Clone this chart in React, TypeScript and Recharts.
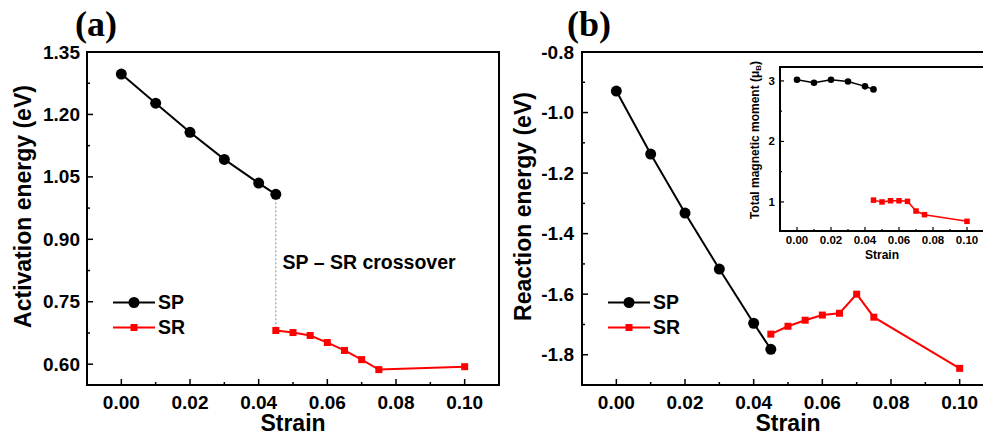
import React from 'react';
import {
  LineChart,
  Line,
  XAxis,
  YAxis,
  ReferenceLine,
  ReferenceArea,
  ReferenceDot,
  Legend,
  Label,
} from 'recharts';

// ---------- data ----------
const strainSP = [0, 0.01, 0.02, 0.03, 0.04, 0.045];
const strainSR = [0.045, 0.05, 0.055, 0.06, 0.065, 0.07, 0.075, 0.1];
const activationSP = [1.297, 1.227, 1.157, 1.092, 1.035, 1.008];
const activationSR = [0.681, 0.676, 0.669, 0.652, 0.633, 0.611, 0.587, 0.594];
const reactionSP = [-0.929, -1.137, -1.332, -1.517, -1.696, -1.782];
const reactionSR = [-1.732, -1.706, -1.686, -1.669, -1.663, -1.6, -1.676, -1.845];
const momentSP = [3.02, 2.97, 3.02, 2.99, 2.91, 2.86];
const momentSR = [1.03, 1.0, 1.02, 1.02, 1.01, 0.85, 0.79, 0.68];

// ---------- ticks ----------
const strainTicks = [0, 0.02, 0.04, 0.06, 0.08, 0.1];
const strainMinorTicks = [0.01, 0.03, 0.05, 0.07, 0.09];
const activationTicks = [0.6, 0.75, 0.9, 1.05, 1.2, 1.35];
const activationMinorTicks = [0.675, 0.825, 0.975, 1.125, 1.275];
const reactionTicks = [-1.8, -1.6, -1.4, -1.2, -1.0, -0.8];
const reactionMinorTicks = [-1.7, -1.5, -1.3, -1.1, -0.9];
const momentTicks = [1, 2, 3];
const momentMinorTicks = [1.5, 2.5];

const seriesNames = ['SP', 'SR'];
const seriesColors = ['#000000', '#ff0000'];
const crossoverText = 'SP – SR crossover';
const crossoverAnchor = { strain: 0.0455, energy: 0.845 };

const strainDomain = [-0.01, 0.11];
const activationDomain = [0.55, 1.35];
const reactionDomain = [-1.9, -0.8];
const momentDomain = [0.52, 3.23];

const FONT = '"Liberation Sans", Arial, sans-serif';

const toPts = (xs: number[], ys: number[]) => xs.map((x, i) => ({ x, y: ys[i] }));
const merge = (a: number[], b: number[]) => [...a, ...b].sort((p, q) => p - q);
const isIn = (arr: number[], v: number) => arr.some((m) => Math.abs(m - v) < 1e-9);

function makeXTick(majors: number[], decimals: number, fontSize: number, gap: number, majorLen: number, minorLen: number, sw: number) {
  return (props: any) => {
    const { x, y, payload } = props;
    const major = isIn(majors, payload.value);
    return (
      <g>
        <line x1={x} x2={x} y1={y} y2={y - (major ? majorLen : minorLen)} stroke="#000" strokeWidth={sw} />
        {major && (
          <text x={x} y={y + gap} textAnchor="middle" dominantBaseline="central" fontSize={fontSize} fontWeight="bold" fill="#000" fontFamily={FONT}>
            {Number(payload.value).toFixed(decimals)}
          </text>
        )}
      </g>
    );
  };
}

function makeYTick(majors: number[], decimals: number, fontSize: number, gap: number, majorLen: number, minorLen: number, sw: number) {
  return (props: any) => {
    const { x, y, payload } = props;
    const major = isIn(majors, payload.value);
    return (
      <g>
        <line x1={x} x2={x + (major ? majorLen : minorLen)} y1={y} y2={y} stroke="#000" strokeWidth={sw} />
        {major && (
          <text x={x - gap} y={y} textAnchor="end" dominantBaseline="central" fontSize={fontSize} fontWeight="bold" fill="#000" fontFamily={FONT}>
            {Number(payload.value).toFixed(decimals)}
          </text>
        )}
      </g>
    );
  };
}

function xTitle(text: string, fontSize: number, dyCenter: number) {
  return (props: any) => {
    const vb = props.viewBox || { x: 0, y: 0, width: 0, height: 0 };
    return (
      <text x={vb.x + vb.width / 2} y={vb.y + dyCenter} textAnchor="middle" dominantBaseline="central" fontSize={fontSize} fontWeight="bold" fill="#000" fontFamily={FONT}>
        {text}
      </text>
    );
  };
}

function yTitle(content: React.ReactNode, fontSize: number, dx: number, shift: number) {
  return (props: any) => {
    const vb = props.viewBox || { x: 0, y: 0, width: 0, height: 0 };
    const cx = vb.x + dx;
    const cy = vb.y + vb.height / 2 + shift;
    return (
      <text x={cx} y={cy} transform={`rotate(-90, ${cx}, ${cy})`} textAnchor="middle" dominantBaseline="central" fontSize={fontSize} fontWeight="bold" fill="#000" fontFamily={FONT}>
        {content}
      </text>
    );
  };
}

function squareDot(size: number, color: string) {
  return (props: any) => {
    const { cx, cy, index } = props;
    return <rect key={`sq-${index}`} x={cx - size / 2} y={cy - size / 2} width={size} height={size} fill={color} />;
  };
}

function legendContent(fontSize: number, rowH: number, lineW: number, r: number, sq: number) {
  return () => (
    <div style={{ fontFamily: FONT, fontWeight: 700, fontSize, color: '#000' }}>
      {seriesNames.map((name, i) => (
        <div key={name} style={{ display: 'flex', alignItems: 'center', height: rowH }}>
          <svg width={lineW} height={rowH} style={{ display: 'block' }}>
            <line x1={0} x2={lineW} y1={rowH / 2} y2={rowH / 2} stroke={seriesColors[i]} strokeWidth={2} />
            {i === 0 ? (
              <circle cx={lineW / 2} cy={rowH / 2} r={r} fill={seriesColors[i]} />
            ) : (
              <rect x={lineW / 2 - sq / 2} y={rowH / 2 - sq / 2} width={sq} height={sq} fill={seriesColors[i]} />
            )}
          </svg>
          <span style={{ marginLeft: 3, lineHeight: 1, fontWeight: 700, fontFamily: FONT }}>{name}</span>
        </div>
      ))}
    </div>
  );
}

const spA = toPts(strainSP, activationSP);
const srA = toPts(strainSR, activationSR);
const spB = toPts(strainSP, reactionSP);
const srB = toPts(strainSR, reactionSR);
const spC = toPts(strainSP, momentSP);
const srC = toPts(strainSR, momentSR);

const mainXTick = makeXTick(strainTicks, 2, 19, 17, 6, 3, 1.5);

export default function App() {
  return (
    <div style={{ position: 'absolute', left: 0, top: 0, width: 983, height: 437, overflow: 'hidden', background: '#fff', fontFamily: FONT }}>
      {/* Panel (a) */}
      <div style={{ position: 'absolute', left: 0, top: 0 }}>
        <LineChart width={500} height={437} margin={{ top: 52, right: 1, left: 0, bottom: 0 }}>
          <XAxis
            dataKey="x"
            type="number"
            domain={strainDomain}
            ticks={merge(strainTicks, strainMinorTicks)}
            interval={0}
            allowDataOverflow
            height={52}
            axisLine={false}
            tickLine={false}
            tickSize={0}
            tickMargin={0}
            tick={mainXTick}
          >
            <Label content={xTitle('Strain', 23, 38)} />
          </XAxis>
          <YAxis
            type="number"
            domain={activationDomain}
            ticks={merge(activationTicks, activationMinorTicks)}
            interval={0}
            allowDataOverflow
            width={87}
            axisLine={false}
            tickLine={false}
            tickSize={0}
            tickMargin={0}
            tick={makeYTick(activationTicks, 2, 19, 7, 6, 3, 1.5)}
          >
            <Label content={yTitle('Activation energy (eV)', 23, 23, -12)} />
          </YAxis>
          <ReferenceArea x1={strainDomain[0]} x2={strainDomain[1]} y1={activationDomain[0]} y2={activationDomain[1]} fill="none" stroke="#000" strokeWidth={2} />
          <ReferenceLine
            segment={[
              { x: strainSP[strainSP.length - 1], y: activationSP[activationSP.length - 1] },
              { x: strainSR[0], y: activationSR[0] },
            ]}
            stroke="#888"
            strokeWidth={1}
            strokeDasharray="2 2"
          />
          <ReferenceDot
            x={crossoverAnchor.strain}
            y={crossoverAnchor.energy}
            r={0}
            fill="none"
            stroke="none"
            label={{ value: crossoverText, position: 'right', offset: 5, fontSize: 19.5, fontWeight: 'bold', fill: '#000', fontFamily: FONT }}
          />
          <Line data={spA} dataKey="y" name="SP" stroke="#000" strokeWidth={2} dot={{ r: 5.5, fill: '#000', stroke: '#000', strokeWidth: 0 }} isAnimationActive={false} />
          <Line data={srA} dataKey="y" name="SR" stroke="#ff0000" strokeWidth={2} dot={squareDot(7, '#ff0000')} isAnimationActive={false} />
          <Legend
            layout="horizontal"
            verticalAlign="middle"
            align="center"
            wrapperStyle={{ left: 113, top: 290, width: 120 }}
            content={legendContent(19.5, 25, 42, 5.5, 7)}
          />
        </LineChart>
      </div>

      {/* Panel (b) */}
      <div style={{ position: 'absolute', left: 500, top: 0 }}>
        <LineChart width={500} height={437} margin={{ top: 52, right: 6, left: 0, bottom: 0 }}>
          <XAxis
            dataKey="x"
            type="number"
            domain={strainDomain}
            ticks={merge(strainTicks, strainMinorTicks)}
            interval={0}
            allowDataOverflow
            height={52}
            axisLine={false}
            tickLine={false}
            tickSize={0}
            tickMargin={0}
            tick={mainXTick}
          >
            <Label content={xTitle('Strain', 23, 38)} />
          </XAxis>
          <YAxis
            type="number"
            domain={reactionDomain}
            ticks={merge(reactionTicks, reactionMinorTicks)}
            interval={0}
            allowDataOverflow
            width={82}
            axisLine={false}
            tickLine={false}
            tickSize={0}
            tickMargin={0}
            tick={makeYTick(reactionTicks, 1, 19, 8, 6, 3, 1.5)}
          >
            <Label content={yTitle('Reaction energy (eV)', 23, 23, -12)} />
          </YAxis>
          <ReferenceArea x1={strainDomain[0]} x2={strainDomain[1]} y1={reactionDomain[0]} y2={reactionDomain[1]} fill="none" stroke="#000" strokeWidth={2} />
          <Line data={spB} dataKey="y" name="SP" stroke="#000" strokeWidth={2} dot={{ r: 5.5, fill: '#000', stroke: '#000', strokeWidth: 0 }} isAnimationActive={false} />
          <Line data={srB} dataKey="y" name="SR" stroke="#ff0000" strokeWidth={2} dot={squareDot(7, '#ff0000')} isAnimationActive={false} />
          <Legend
            layout="horizontal"
            verticalAlign="middle"
            align="center"
            wrapperStyle={{ left: 108, top: 290, width: 120 }}
            content={legendContent(19.5, 25, 42, 5.5, 7)}
          />
        </LineChart>
      </div>

      {/* Inset */}
      <div style={{ position: 'absolute', left: 730, top: 60 }}>
        <LineChart width={260} height={210} margin={{ top: 7, right: 6, left: 0, bottom: 0 }}>
          <XAxis
            dataKey="x"
            type="number"
            domain={strainDomain}
            ticks={merge(strainTicks, strainMinorTicks)}
            interval={0}
            allowDataOverflow
            height={39}
            axisLine={false}
            tickLine={false}
            tickSize={0}
            tickMargin={0}
            tick={makeXTick(strainTicks, 2, 11.5, 9, 4, 2, 1.2)}
          >
            <Label content={xTitle('Strain', 12, 24)} />
          </XAxis>
          <YAxis
            type="number"
            domain={momentDomain}
            ticks={merge(momentTicks, momentMinorTicks)}
            interval={0}
            allowDataOverflow
            width={50}
            axisLine={false}
            tickLine={false}
            tickSize={0}
            tickMargin={0}
            tick={makeYTick(momentTicks, 0, 11.5, 5, 4, 2, 1.2)}
          >
            <Label
              content={yTitle(
                <>
                  <tspan>Total magnetic moment (μ</tspan>
                  <tspan fontSize={8} dy={3}>B</tspan>
                  <tspan dy={-3}>)</tspan>
                </>,
                12,
                25,
                -9
              )}
            />
          </YAxis>
          <ReferenceArea x1={strainDomain[0]} x2={strainDomain[1]} y1={momentDomain[0]} y2={momentDomain[1]} fill="none" stroke="#000" strokeWidth={2} />
          <Line data={spC} dataKey="y" name="SP" stroke="#000" strokeWidth={1.5} dot={{ r: 3.3, fill: '#000', stroke: '#000', strokeWidth: 0 }} isAnimationActive={false} />
          <Line data={srC} dataKey="y" name="SR" stroke="#ff0000" strokeWidth={1.5} dot={squareDot(5.5, '#ff0000')} isAnimationActive={false} />
        </LineChart>
      </div>

      {/* Panel labels */}
      <svg width={983} height={60} style={{ position: 'absolute', left: 0, top: 0, pointerEvents: 'none' }}>
        <text x={75} y={36} fontFamily='"Liberation Serif", "Times New Roman", serif' fontWeight="bold" fontSize={36} fill="#000">(a)</text>
        <text x={567} y={36} fontFamily='"Liberation Serif", "Times New Roman", serif' fontWeight="bold" fontSize={36} fill="#000">(b)</text>
      </svg>
    </div>
  );
}
